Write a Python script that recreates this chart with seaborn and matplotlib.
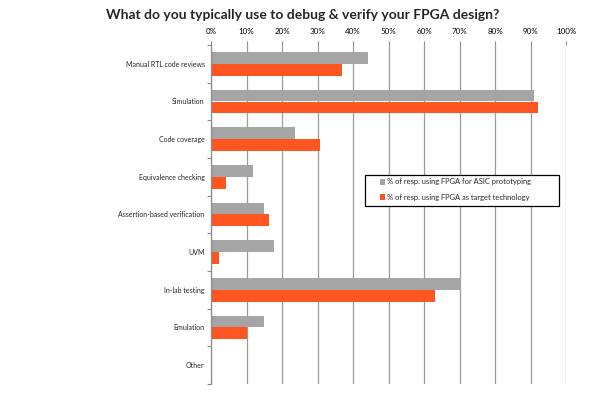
import matplotlib
matplotlib.use("Agg")
import matplotlib.pyplot as plt
import seaborn as sns
import pandas as pd
import numpy as np
from matplotlib.ticker import FixedLocator, PercentFormatter
from matplotlib.patches import Rectangle

categories = ["Manual RTL code reviews", "Simulation", "Code coverage",
              "Equivalence checking", "Assertion-based verification", "UVM",
              "In-lab testing", "Emulation", "Other"]
asic_proto = [44.3, 91.1, 23.7, 11.7, 14.8, 17.7, 70.5, 14.8, 0.0]
target_tech = [36.9, 92.0, 30.7, 4.1, 16.3, 2.2, 63.1, 10.1, 0.0]
series_names = ["% of resp. using FPGA for ASIC prototyping",
                "% of resp. using FPGA as target technology"]
x_ticks = [0, 10, 20, 30, 40, 50, 60, 70, 80, 90, 100]

df = pd.DataFrame({
    "category": categories * 2,
    "value": asic_proto + target_tech,
    "series": [series_names[0]] * len(categories) + [series_names[1]] * len(categories),
})

sns.set_style("white")
plt.rcParams["font.family"] = ["Lato", "DejaVu Sans"]

W, H = 602, 393
fig = plt.figure(figsize=(6.02, 3.93), dpi=100)
ax = fig.add_axes([211 / W, 1 - 384 / H, 355 / W, 339 / H])

sns.barplot(data=df, y="category", x="value", hue="series", orient="h",
            order=categories, hue_order=series_names,
            palette=["#A5A5A5", "#FF5521"], width=0.62, ax=ax,
            saturation=1, legend=True, linewidth=0)

ax.set_xlim(0, 100)
ax.set_ylim(len(categories) - 0.5, -0.5)
ax.xaxis.set_major_locator(FixedLocator(x_ticks))
ax.xaxis.set_major_formatter(PercentFormatter(decimals=0))
ax.xaxis.tick_top()
ax.tick_params(axis="x", which="major", top=True, bottom=False, length=3,
               width=0.8, color="#8C8C8C", labelsize=5.8, pad=4, labelcolor="#000000")
ax.grid(axis="x", color="#9A9A9A", linewidth=0.9)
ax.set_axisbelow(True)

ax.set_yticks(range(len(categories)))
ax.set_yticklabels(categories)
ax.tick_params(axis="y", which="major", left=False, length=0, labelsize=5.0, pad=4.5)
ax.set_yticks(np.arange(-0.5, len(categories), 1), minor=True)
ax.tick_params(axis="y", which="minor", left=True, length=3, width=0.8, color="#8C8C8C")

for s in ["top", "right", "bottom"]:
    ax.spines[s].set_visible(False)
ax.spines["left"].set_color("#8C8C8C")
ax.spines["left"].set_linewidth(0.9)
ax.set_xlabel("")
ax.set_ylabel("")

# legend frame
frame = Rectangle((365 / W, 1 - 206 / H), (559 - 365) / W, (206 - 175) / H,
                  transform=fig.transFigure, facecolor="white",
                  edgecolor="black", linewidth=0.9, zorder=4.5, clip_on=False)
ax.add_patch(frame)
leg = ax.legend(loc="upper left", bbox_to_anchor=(380 / W, 1 - 178.5 / H),
                bbox_transform=fig.transFigure,
                frameon=False, fontsize=5.4, handlelength=0.65,
                handleheight=0.9, handletextpad=0.3, borderpad=0.0, labelspacing=1.1,
                borderaxespad=0)
leg.set_zorder(6)

fig.text(0.502, 1 - 15 / H, "What do you typically use to debug & verify your FPGA design?",
         ha="center", va="center", fontsize=10, fontweight="bold")

fig.savefig("out.png", dpi=100)
